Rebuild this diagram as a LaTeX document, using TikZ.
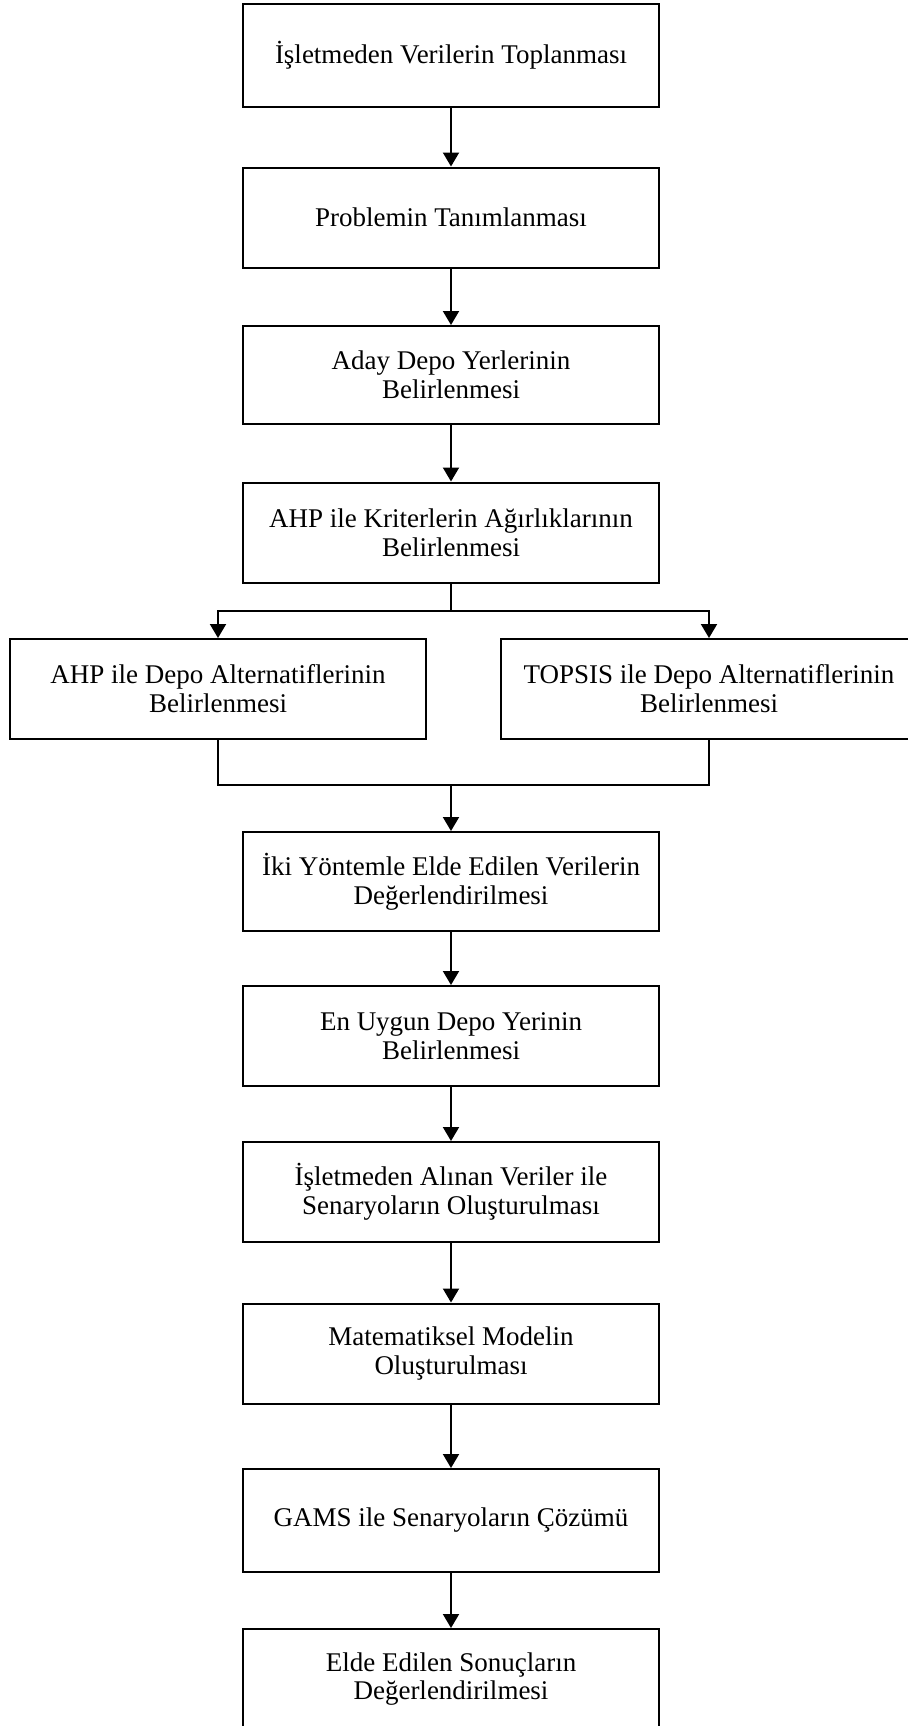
\documentclass[tikz,border=0pt]{standalone}
\usepackage{fontspec}
\setmainfont{Liberation Serif}
\usetikzlibrary{arrows.meta}
\begin{document}
\begin{tikzpicture}[x=0.5pt,y=-0.5pt,
  box/.style={draw,line width=1pt,minimum width=208pt,minimum height=50pt,inner sep=0pt,align=center,font=\fontsize{13.5}{14.4}\selectfont},
  arr/.style={line width=1pt,-{Triangle[width=8pt,length=7pt]}},
  ln/.style={line width=1pt}]
\useasboundingbox (0,0) rectangle (908,1726);
\clip (0,0) rectangle (908,1726);
\node[box,minimum height=51.5pt] (b1) at (451,55.5) {İşletmeden Verilerin Toplanması};
\node[box] (b2) at (451,217.5) {Problemin Tanımlanması};
\node[box,minimum height=49pt] (b3) at (451,375) {Aday Depo Yerlerinin\\Belirlenmesi};
\node[box] (b4) at (451,532.5) {AHP ile Kriterlerin Ağırlıklarının\\Belirlenmesi};
\node[box] (l) at (218,689) {AHP ile Depo Alternatiflerinin\\Belirlenmesi};
\node[box] (r) at (709,689) {TOPSIS ile Depo Alternatiflerinin\\Belirlenmesi};
\node[box,minimum height=49.5pt] (b5) at (451,881.5) {İki Yöntemle Elde Edilen Verilerin\\Değerlendirilmesi};
\node[box] (b6) at (451,1036) {En Uygun Depo Yerinin\\Belirlenmesi};
\node[box] (b7) at (451,1192) {İşletmeden Alınan Veriler ile\\Senaryoların Oluşturulması};
\node[box] (b8) at (451,1353.5) {Matematiksel Modelin\\Oluşturulması};
\node[box,minimum height=51.5pt] (b9) at (451,1520.5) {GAMS ile Senaryoların Çözümü};
\node[box] (b10) at (451,1679) {Elde Edilen Sonuçların\\Değerlendirilmesi};
\coordinate (split) at (451,611);
\coordinate (merge) at (451,785);
\draw[arr] (b1) -- (b2);
\draw[arr] (b2) -- (b3);
\draw[arr] (b3) -- (b4);
\draw[ln] (b4.south) -- (split);
\draw[arr] (split) -| (l.north);
\draw[arr] (split) -| (r.north);
\draw[ln] (l.south) |- (merge);
\draw[ln] (r.south) |- (merge);
\draw[arr] (merge) -- (b5.north);
\draw[arr] (b5) -- (b6);
\draw[arr] (b6) -- (b7);
\draw[arr] (b7) -- (b8);
\draw[arr] (b8) -- (b9);
\draw[arr] (b9) -- (b10);
\end{tikzpicture}
\end{document}
